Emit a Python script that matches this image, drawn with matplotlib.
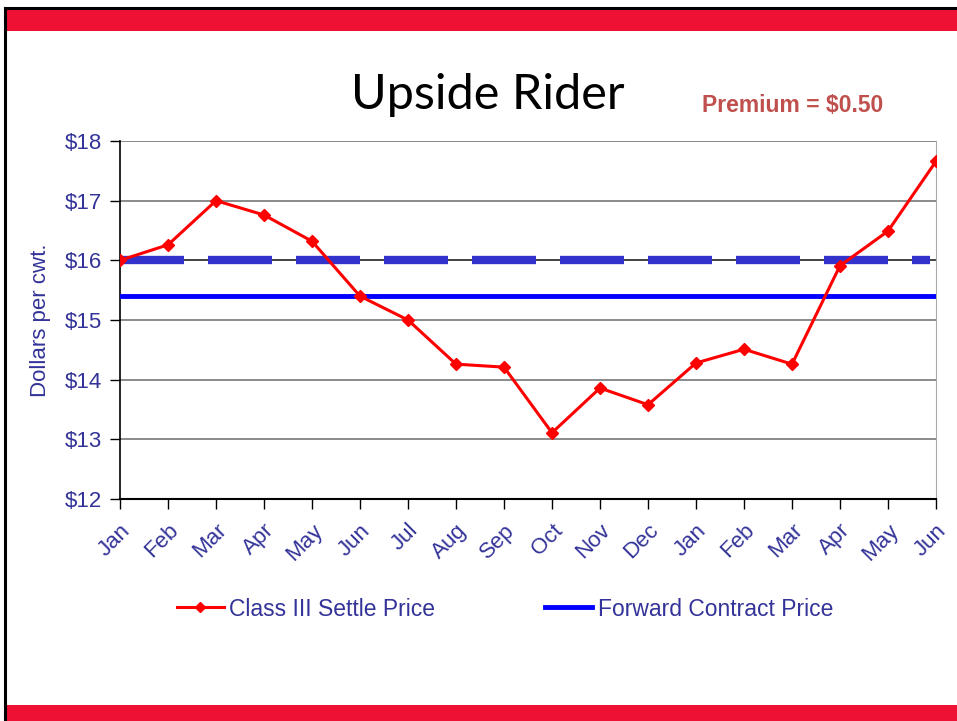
import numpy as np
import matplotlib.pyplot as plt
from matplotlib.patches import Rectangle
from matplotlib.lines import Line2D

months = ['Jan', 'Feb', 'Mar', 'Apr', 'May', 'Jun', 'Jul', 'Aug', 'Sep',
          'Oct', 'Nov', 'Dec', 'Jan', 'Feb', 'Mar', 'Apr', 'May', 'Jun']
settle = [16.00, 16.26, 17.00, 16.76, 16.32, 15.40, 15.00, 14.26, 14.21,
          13.11, 13.86, 13.58, 14.28, 14.51, 14.26, 15.91, 16.49, 17.66]
forward_price = 15.40
floor_price = 16.00
yticks = [12, 13, 14, 15, 16, 17, 18]

navy = '#333399'
plt.rcParams['font.family'] = ['Liberation Sans', 'DejaVu Sans']

fig = plt.figure(figsize=(9.57, 7.21), dpi=100)
W, H = 957, 721

# slide decoration
fig.add_artist(Rectangle((5 / W, 1 - 31 / H), 1, 22 / H, transform=fig.transFigure,
                         color='#EE1133', lw=0))
fig.add_artist(Rectangle((5 / W, 0), 1, 16 / H, transform=fig.transFigure,
                         color='#EE1133', lw=0))
fig.add_artist(Line2D([5 / W, 1], [1 - 8 / H, 1 - 8 / H], transform=fig.transFigure,
                      color='black', lw=2.2))
fig.add_artist(Line2D([5 / W, 5 / W], [0, 1 - 8 / H], transform=fig.transFigure,
                      color='black', lw=2.2))

ax = fig.add_axes([120 / W, 1 - 499 / H, 816 / W, 358 / H])
x = np.arange(len(months))

ax.set_ylim(12, 18)
ax.set_xlim(0, len(months) - 1)
ax.set_yticks(yticks)
ax.set_yticklabels(['$%d' % v for v in yticks], color=navy, fontsize=16)
for v in yticks[1:]:
    ax.axhline(v, color='#777777' if v != 16 else '#222222', lw=1.2, zorder=1)

ax.plot([0, len(months) - 1.12], [floor_price, floor_price], color='#3333CC', lw=6,
        dashes=(7.68, 2.88), solid_capstyle='butt', zorder=2)
ax.axhline(forward_price, color='#0000FF', lw=3.5, zorder=3)
ax.plot(x, settle, color='#FF0000', lw=2.2, marker='D', markersize=6, zorder=4)

ax.set_xticks(x)
ax.set_xticklabels(months, rotation=45, ha='right', rotation_mode='anchor',
                   color=navy, fontsize=16)
ax.tick_params(axis='x', length=7, width=1, pad=8)
ax.tick_params(axis='y', length=7, width=1, pad=6, direction='out')
ax.spines['top'].set_visible(False)
ax.spines['right'].set_color('#AAAAAA')
ax.spines['left'].set_linewidth(1.2)
ax.spines['bottom'].set_linewidth(1.5)
ax.set_ylabel('Dollars per cwt.', color=navy, fontsize=16, labelpad=10)

fig.text(488 / W, 1 - 95 / H, 'Upside Rider', fontsize=35, ha='center', va='center',
         family=['Lato', 'DejaVu Sans'])
fig.text(793 / W, 1 - 105 / H, 'Premium = $0.50', fontsize=16.5, fontweight='bold',
         color='#C0504D', ha='center', va='center')

handles = [Line2D([], [], color='#FF0000', lw=2.2, marker='D', markersize=5),
           Line2D([], [], color='#0000FF', lw=3.5)]
fig.legend(handles, ['Class III Settle Price', 'Forward Contract Price'],
           loc='center', bbox_to_anchor=(505 / W, 1 - 609 / H), ncol=2, frameon=False,
           fontsize=16.5, labelcolor=navy, handlelength=2.05, handletextpad=0.25,
           columnspacing=4.8)

fig.savefig('out.png', dpi=100)
